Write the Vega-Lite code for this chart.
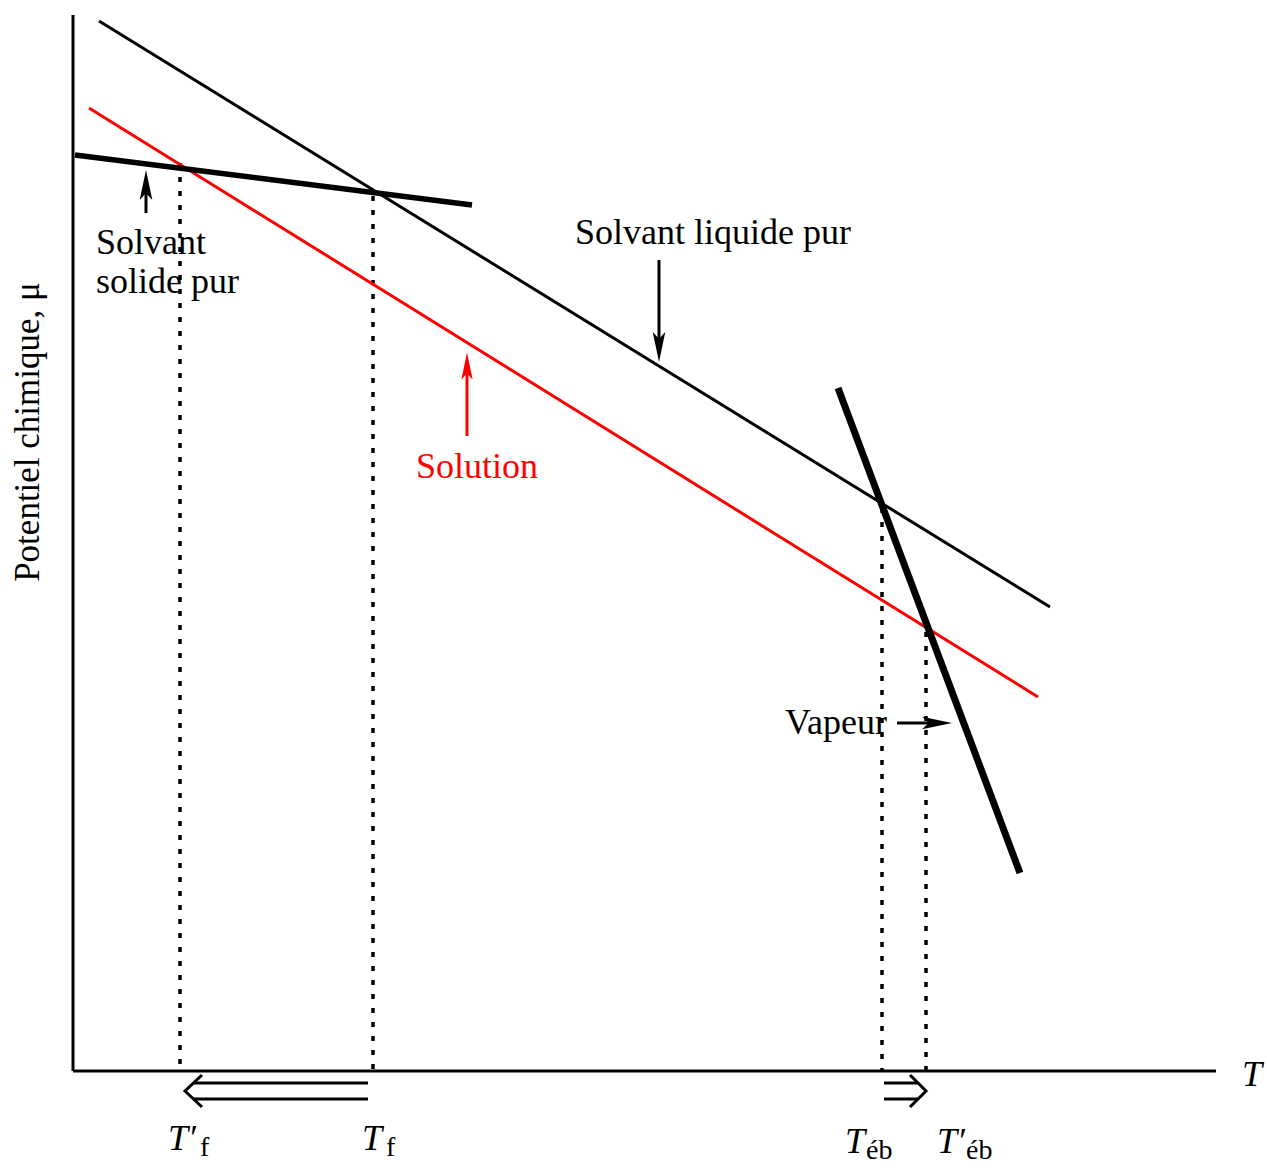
{
  "$schema": "https://vega.github.io/schema/vega-lite/v6.json",
  "width": 1267,
  "height": 1168,
  "autosize": {"type": "fit", "contains": "padding"},
  "padding": 0,
  "background": "white",
  "config": {"view": {"stroke": null}},
  "encoding": {
    "x": {"field": "x", "type": "quantitative", "scale": {"domain": [0, 1267], "nice": false, "zero": false}, "axis": null},
    "y": {"field": "y", "type": "quantitative", "scale": {"domain": [0, 1168], "nice": false, "zero": false, "reverse": true}, "axis": null}
  },
  "layer": [
    {
      "data": {"values": [
        {"seg": "yaxis", "i": 0, "x": 73, "y": 15},
        {"seg": "yaxis", "i": 1, "x": 73, "y": 1071},
        {"seg": "xaxis", "i": 0, "x": 73, "y": 1071},
        {"seg": "xaxis", "i": 1, "x": 1216, "y": 1071}
      ]},
      "mark": {"type": "line", "color": "black", "strokeWidth": 3},
      "encoding": {"detail": {"field": "seg"}, "order": {"field": "i"}}
    },
    {
      "data": {"values": [
        {"seg": "Tf2", "i": 0, "x": 180, "y": 163},
        {"seg": "Tf2", "i": 1, "x": 180, "y": 1071},
        {"seg": "Tf", "i": 0, "x": 373, "y": 196},
        {"seg": "Tf", "i": 1, "x": 373, "y": 1071},
        {"seg": "Teb", "i": 0, "x": 882, "y": 508},
        {"seg": "Teb", "i": 1, "x": 882, "y": 1071},
        {"seg": "Teb2", "i": 0, "x": 926, "y": 632},
        {"seg": "Teb2", "i": 1, "x": 926, "y": 1071}
      ]},
      "mark": {"type": "line", "color": "black", "strokeWidth": 3.5, "strokeDash": [5, 9]},
      "encoding": {"detail": {"field": "seg"}, "order": {"field": "i"}}
    },
    {
      "data": {"values": [
        {"seg": "liquide", "i": 0, "x": 99, "y": 21},
        {"seg": "liquide", "i": 1, "x": 1050, "y": 607}
      ]},
      "mark": {"type": "line", "color": "black", "strokeWidth": 3},
      "encoding": {"detail": {"field": "seg"}, "order": {"field": "i"}}
    },
    {
      "data": {"values": [
        {"seg": "solution", "i": 0, "x": 89, "y": 108},
        {"seg": "solution", "i": 1, "x": 1038, "y": 697}
      ]},
      "mark": {"type": "line", "color": "#ff0000", "strokeWidth": 3},
      "encoding": {"detail": {"field": "seg"}, "order": {"field": "i"}}
    },
    {
      "data": {"values": [
        {"seg": "solide", "i": 0, "x": 75, "y": 155},
        {"seg": "solide", "i": 1, "x": 472, "y": 205}
      ]},
      "mark": {"type": "line", "color": "black", "strokeWidth": 5.5},
      "encoding": {"detail": {"field": "seg"}, "order": {"field": "i"}}
    },
    {
      "data": {"values": [
        {"seg": "vapeur", "i": 0, "x": 838, "y": 388},
        {"seg": "vapeur", "i": 1, "x": 1020, "y": 873}
      ]},
      "mark": {"type": "line", "color": "black", "strokeWidth": 7},
      "encoding": {"detail": {"field": "seg"}, "order": {"field": "i"}}
    },
    {
      "data": {"values": [
        {"seg": "a_solide", "i": 0, "x": 146, "y": 213},
        {"seg": "a_solide", "i": 1, "x": 146, "y": 190},
        {"seg": "a_liquide", "i": 0, "x": 659, "y": 260},
        {"seg": "a_liquide", "i": 1, "x": 659, "y": 343},
        {"seg": "a_vapeur", "i": 0, "x": 897, "y": 723},
        {"seg": "a_vapeur", "i": 1, "x": 932, "y": 723},
        {"seg": "fus1", "i": 0, "x": 193, "y": 1083},
        {"seg": "fus1", "i": 1, "x": 368, "y": 1083},
        {"seg": "fus2", "i": 0, "x": 193, "y": 1099},
        {"seg": "fus2", "i": 1, "x": 368, "y": 1099},
        {"seg": "fus3", "i": 0, "x": 202, "y": 1075},
        {"seg": "fus3", "i": 1, "x": 185, "y": 1091},
        {"seg": "fus3", "i": 2, "x": 202, "y": 1107},
        {"seg": "eb1", "i": 0, "x": 884, "y": 1083},
        {"seg": "eb1", "i": 1, "x": 918, "y": 1083},
        {"seg": "eb2", "i": 0, "x": 884, "y": 1099},
        {"seg": "eb2", "i": 1, "x": 918, "y": 1099},
        {"seg": "eb3", "i": 0, "x": 910, "y": 1075},
        {"seg": "eb3", "i": 1, "x": 926, "y": 1091},
        {"seg": "eb3", "i": 2, "x": 910, "y": 1107}
      ]},
      "mark": {"type": "line", "color": "black", "strokeWidth": 3},
      "encoding": {"detail": {"field": "seg"}, "order": {"field": "i"}}
    },
    {
      "data": {"values": [
        {"seg": "a_solution", "i": 0, "x": 467, "y": 436},
        {"seg": "a_solution", "i": 1, "x": 467, "y": 374}
      ]},
      "mark": {"type": "line", "color": "#ff0000", "strokeWidth": 3},
      "encoding": {"detail": {"field": "seg"}, "order": {"field": "i"}}
    },
    {
      "data": {"values": [
        {"dir": "up", "x": 146, "y": 185},
        {"dir": "down", "x": 659, "y": 347},
        {"dir": "right", "x": 937, "y": 723}
      ]},
      "mark": {"type": "point", "filled": true, "color": "black", "opacity": 1, "size": 900, "strokeWidth": 0},
      "encoding": {
        "shape": {"field": "dir", "type": "nominal", "legend": null,
          "scale": {"domain": ["up", "down", "right"], "range": ["M0,-1L0.42,1L0,0.55L-0.42,1Z", "M0,1L0.42,-1L0,-0.55L-0.42,-1Z", "M1,0L-1,0.42L-0.55,0L-1,-0.42Z"]}}
      }
    },
    {
      "data": {"values": [
        {"dir": "up", "x": 467, "y": 366}
      ]},
      "mark": {"type": "point", "filled": true, "color": "#ff0000", "opacity": 1, "size": 720, "strokeWidth": 0},
      "encoding": {
        "shape": {"field": "dir", "type": "nominal", "legend": null,
          "scale": {"domain": ["up"], "range": ["M0,-1L0.42,1L0,0.55L-0.42,1Z"]}}
      }
    },
    {
      "data": {"values": [
        {"t": "Solvant", "x": 96, "y": 254},
        {"t": "solide pur", "x": 96, "y": 293},
        {"t": "Solvant liquide pur", "x": 575, "y": 244},
        {"t": "Vapeur", "x": 785, "y": 734}
      ]},
      "mark": {"type": "text", "font": "Liberation Serif", "fontSize": 36, "align": "left", "baseline": "alphabetic", "color": "black"},
      "encoding": {"text": {"field": "t"}}
    },
    {
      "data": {"values": [
        {"t": "Solution", "x": 416, "y": 478}
      ]},
      "mark": {"type": "text", "font": "Liberation Serif", "fontSize": 36, "align": "left", "baseline": "alphabetic", "color": "#ff0000"},
      "encoding": {"text": {"field": "t"}}
    },
    {
      "data": {"values": [
        {"t": "Potentiel chimique, μ", "x": 39, "y": 432}
      ]},
      "mark": {"type": "text", "font": "Liberation Serif", "fontSize": 35, "align": "center", "baseline": "alphabetic", "angle": 270, "color": "black"},
      "encoding": {"text": {"field": "t"}}
    },
    {
      "data": {"values": [
        {"t": "T′", "x": 168, "y": 1150},
        {"t": "T", "x": 362, "y": 1150},
        {"t": "T", "x": 845, "y": 1153},
        {"t": "T′", "x": 937, "y": 1153},
        {"t": "T", "x": 1242, "y": 1086}
      ]},
      "mark": {"type": "text", "font": "Liberation Serif", "fontStyle": "italic", "fontSize": 36, "align": "left", "baseline": "alphabetic", "color": "black"},
      "encoding": {"text": {"field": "t"}}
    },
    {
      "data": {"values": [
        {"t": "f", "x": 200, "y": 1156},
        {"t": "f", "x": 386, "y": 1156},
        {"t": "éb", "x": 866, "y": 1159},
        {"t": "éb", "x": 966, "y": 1159}
      ]},
      "mark": {"type": "text", "font": "Liberation Serif", "fontSize": 28, "align": "left", "baseline": "alphabetic", "color": "black"},
      "encoding": {"text": {"field": "t"}}
    }
  ]
}
